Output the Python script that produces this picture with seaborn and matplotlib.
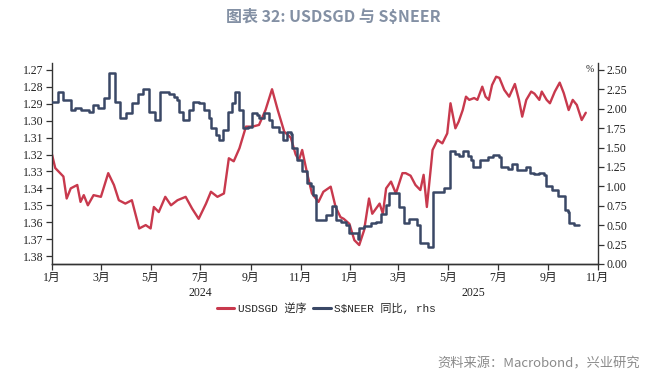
import numpy as np
import pandas as pd
import matplotlib
matplotlib.use("Agg")
import matplotlib.pyplot as plt
import matplotlib.dates as mdates
from matplotlib.lines import Line2D
import seaborn as sns

# USDSGD (left axis, inverted)
usd_dates = [
    "2024-01-01", "2024-01-05", "2024-01-11", "2024-01-15", "2024-01-19", "2024-01-24",
    "2024-02-01", "2024-02-05", "2024-02-09", "2024-02-14", "2024-02-21", "2024-03-01",
    "2024-03-10", "2024-03-17", "2024-03-23", "2024-03-31", "2024-04-08", "2024-04-17",
    "2024-04-25", "2024-05-01", "2024-05-05", "2024-05-11", "2024-05-19", "2024-05-26",
    "2024-06-03", "2024-06-13", "2024-06-21", "2024-06-29", "2024-07-08", "2024-07-14",
    "2024-07-22", "2024-07-30", "2024-08-05", "2024-08-11", "2024-08-18", "2024-08-26",
    "2024-09-03", "2024-09-11", "2024-09-19", "2024-09-27", "2024-10-04", "2024-10-12",
    "2024-10-20", "2024-10-26", "2024-10-30", "2024-11-03", "2024-11-09", "2024-11-15",
    "2024-11-23", "2024-11-29", "2024-12-08", "2024-12-14", "2024-12-20", "2024-12-24",
    "2024-12-31", "2025-01-06", "2025-01-12", "2025-01-18", "2025-01-24", "2025-01-28",
    "2025-02-06", "2025-02-10", "2025-02-14", "2025-02-20", "2025-02-26", "2025-03-06",
    "2025-03-10", "2025-03-16", "2025-03-22", "2025-03-28", "2025-04-01", "2025-04-05",
    "2025-04-10", "2025-04-12", "2025-04-18", "2025-04-24", "2025-04-30", "2025-05-04",
    "2025-05-10", "2025-05-14", "2025-05-19", "2025-05-23", "2025-05-27", "2025-06-02",
    "2025-06-06", "2025-06-12", "2025-06-16", "2025-06-20", "2025-06-24", "2025-06-29",
    "2025-07-03", "2025-07-09", "2025-07-15", "2025-07-22", "2025-07-27", "2025-07-31",
    "2025-08-05", "2025-08-11", "2025-08-15", "2025-08-21", "2025-08-24", "2025-08-30",
    "2025-09-03", "2025-09-09", "2025-09-15", "2025-09-20", "2025-09-26", "2025-10-01",
    "2025-10-06", "2025-10-12", "2025-10-17",
]
usd_values = [
    1.320, 1.328, 1.331, 1.333, 1.346, 1.340,
    1.338, 1.348, 1.344, 1.350, 1.344, 1.345,
    1.331, 1.338, 1.347, 1.349, 1.347, 1.3637,
    1.3617, 1.3637, 1.351, 1.354, 1.345, 1.350,
    1.347, 1.345, 1.352, 1.358, 1.349, 1.342,
    1.345, 1.343, 1.3222, 1.324, 1.3163, 1.3035,
    1.3035, 1.3025, 1.2937, 1.2814, 1.2937, 1.3065,
    1.310, 1.320, 1.3233, 1.3173, 1.331, 1.343,
    1.348, 1.342, 1.339, 1.351, 1.357, 1.358,
    1.361, 1.3706, 1.3735, 1.3647, 1.346, 1.355,
    1.349, 1.355, 1.340, 1.336, 1.343, 1.331,
    1.331, 1.3325, 1.338, 1.341, 1.332, 1.351,
    1.3272, 1.3173, 1.3114, 1.3134, 1.3075, 1.2897,
    1.3045, 1.3006, 1.2937, 1.2858, 1.2877, 1.2866,
    1.2877, 1.2799, 1.2858, 1.2877, 1.2789, 1.274,
    1.2747, 1.2818, 1.2858, 1.2783, 1.2877, 1.2976,
    1.2877, 1.2828, 1.284, 1.2877, 1.2828, 1.2877,
    1.2897, 1.2828, 1.2775, 1.2837, 1.2937, 1.2877,
    1.2907, 1.2996, 1.2953,
]

# S$NEER YoY, % (right axis, step series)
neer_dates = [
    "2024-01-01", "2024-01-08", "2024-01-15", "2024-01-24", "2024-01-29", "2024-02-06",
    "2024-02-15", "2024-02-20", "2024-02-27", "2024-03-05", "2024-03-11", "2024-03-18",
    "2024-03-25", "2024-04-01", "2024-04-08", "2024-04-15", "2024-04-22", "2024-04-29",
    "2024-05-06", "2024-05-13", "2024-05-24", "2024-05-30", "2024-06-02", "2024-06-05",
    "2024-06-10", "2024-06-17", "2024-06-22", "2024-06-29", "2024-07-06", "2024-07-12",
    "2024-07-14", "2024-07-20", "2024-07-24", "2024-07-29", "2024-08-04", "2024-08-09",
    "2024-08-12", "2024-08-18", "2024-08-22", "2024-08-29", "2024-09-02", "2024-09-09",
    "2024-09-11", "2024-09-17", "2024-09-23", "2024-09-27", "2024-10-05", "2024-10-10",
    "2024-10-15", "2024-10-20", "2024-10-22", "2024-10-28", "2024-11-03", "2024-11-09",
    "2024-11-14", "2024-11-16", "2024-11-20", "2024-12-02", "2024-12-10", "2024-12-15",
    "2024-12-21", "2024-12-27", "2024-12-31", "2025-01-10", "2025-01-12", "2025-01-18",
    "2025-01-27", "2025-02-02", "2025-02-08", "2025-02-14", "2025-02-18", "2025-03-02",
    "2025-03-08", "2025-03-14", "2025-03-24", "2025-03-28", "2025-04-06", "2025-04-12",
    "2025-04-26", "2025-05-04", "2025-05-10", "2025-05-14", "2025-05-19", "2025-05-25",
    "2025-05-29", "2025-05-31", "2025-06-09", "2025-06-19", "2025-06-25", "2025-07-03",
    "2025-07-05", "2025-07-13", "2025-07-19", "2025-07-25", "2025-08-05", "2025-08-09",
    "2025-08-15", "2025-08-21", "2025-08-27", "2025-08-29", "2025-09-05", "2025-09-13",
    "2025-09-21", "2025-09-25", "2025-09-27", "2025-10-03", "2025-10-09",
]
neer_values = [
    2.09, 2.21, 2.11, 1.985, 2.01, 1.985,
    1.96, 2.05, 2.01, 2.135, 2.465, 2.09,
    1.88, 1.94, 2.08, 2.19, 2.255, 1.96,
    1.86, 2.21, 2.19, 2.15, 2.11, 1.96,
    1.85, 1.985, 2.09, 2.07, 1.985, 1.88,
    1.75, 1.66, 1.60, 1.73, 1.96, 2.07,
    2.21, 1.985, 1.75, 1.77, 1.94, 1.92,
    1.88, 1.94, 1.855, 1.77, 1.705, 1.60,
    1.705, 1.68, 1.49, 1.34, 1.20, 1.04,
    1.00, 0.89, 0.57, 0.63, 0.75, 0.57,
    0.545, 0.50, 0.395, 0.32, 0.46, 0.49,
    0.525, 0.545, 0.65, 0.76, 0.91, 0.74,
    0.525, 0.575, 0.50, 0.275, 0.225, 0.93,
    0.985, 1.45, 1.415, 1.39, 1.45, 1.39,
    1.34, 1.245, 1.34, 1.375, 1.405, 1.375,
    1.245, 1.23, 1.29, 1.21, 1.245, 1.17,
    1.16, 1.17, 1.15, 1.00, 0.955, 0.87,
    0.70, 0.675, 0.525, 0.50, 0.50,
]

left_ticks = [1.27, 1.28, 1.29, 1.30, 1.31, 1.32, 1.33, 1.34, 1.35, 1.36, 1.37, 1.38]
right_ticks = [0.0, 0.25, 0.5, 0.75, 1.0, 1.25, 1.5, 1.75, 2.0, 2.25, 2.5]
year_labels = ["2024", "2025"]
year_centers = ["2024-07-01", "2025-06-01"]

red = "#C8394D"
navy = "#3A4866"
axis_col = "#333333"

sns.set_theme(style="ticks")
plt.rcParams["font.family"] = ["Liberation Serif", "Noto Sans CJK SC"]
plt.rcParams["text.parse_math"] = False

usd = pd.DataFrame({"date": pd.to_datetime(usd_dates), "value": usd_values})
neer = pd.DataFrame({"date": pd.to_datetime(neer_dates), "value": neer_values})

fig = plt.figure(figsize=(6.66, 3.77), dpi=100)
ax = fig.add_axes([52 / 666, 1 - 264 / 377, 546 / 666, 201 / 377])
ax2 = ax.twinx()

sns.lineplot(data=usd, x="date", y="value", ax=ax, color=red, linewidth=1.7)
sns.lineplot(data=neer, x="date", y="value", ax=ax2, color=navy, linewidth=1.8,
             drawstyle="steps-post")

ax.set_xlim(pd.Timestamp("2024-01-01"), pd.Timestamp("2025-11-01"))
ax.set_ylim(1.3847, 1.2659)
ax2.set_ylim(0, 2.59)
ax.set_yticks(left_ticks)
ax.set_yticklabels([f"{t:.2f}" for t in left_ticks])
ax2.set_yticks(right_ticks)
ax2.set_yticklabels([f"{t:.2f}" for t in right_ticks])

ax.xaxis.set_major_locator(mdates.MonthLocator(bymonth=[1, 3, 5, 7, 9, 11]))
ax.xaxis.set_major_formatter(plt.FuncFormatter(lambda v, p: f"{mdates.num2date(v).month}月"))

for a in (ax, ax2):
    a.set_xlabel("")
    a.set_ylabel("")
    a.spines["top"].set_visible(False)
    for s in ("left", "right", "bottom"):
        a.spines[s].set_color(axis_col)
        a.spines[s].set_linewidth(1.0)
    a.tick_params(axis="both", direction="out", length=4, width=0.9, color=axis_col,
                  labelsize=8.5, labelcolor="#222222", pad=2)
ax.spines["right"].set_visible(False)
ax2.spines["left"].set_visible(False)

for lab, c in zip(year_labels, year_centers):
    ax.text(mdates.date2num(pd.Timestamp(c)), -0.115, lab, transform=ax.get_xaxis_transform(),
            ha="center", va="top", fontsize=8.5, color="#222222")

ax2.text(0.992, 2.5, "%", transform=ax2.get_yaxis_transform(), ha="right", va="center",
         fontsize=7, color="#222222")

fig.text(0.5, 0.955, "图表 32: USDSGD 与 S$NEER", ha="center", va="center", fontsize=11.5,
         fontweight="bold", color="#8390A4", family=["Noto Sans CJK SC", "DejaVu Sans"])

handles = [Line2D([], [], color=red, linewidth=2.2), Line2D([], [], color=navy, linewidth=2.2)]
fig.legend(handles, ["USDSGD 逆序", "S$NEER 同比, rhs"], loc="center", bbox_to_anchor=(0.49, 0.183),
           ncol=2, frameon=False, handlelength=1.6, handletextpad=0.3, columnspacing=0.6,
           prop={"family": ["Liberation Mono", "Noto Sans CJK SC"], "size": 8})

fig.text(0.961, 0.035, "资料来源：Macrobond，兴业研究", ha="right", va="center", fontsize=9.5,
         color="#8a8a8a", family=["Noto Sans CJK SC", "DejaVu Sans"])

fig.savefig("out.png", dpi=100)
